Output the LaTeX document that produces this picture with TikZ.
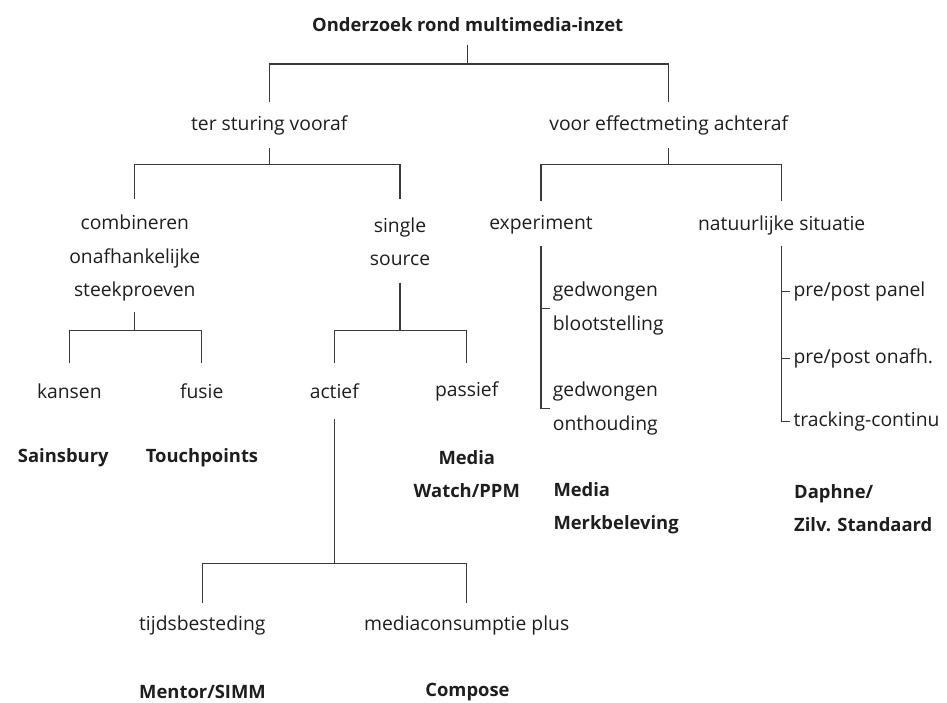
\documentclass[tikz,border=0pt]{standalone}
\usepackage{fontspec}
\setmainfont{Open Sans}
\usetikzlibrary{calc}
\definecolor{ink}{HTML}{1E1E1E}
\definecolor{rule}{HTML}{3A3A3A}
\tikzset{
  lbl/.style={inner sep=0pt, text=ink, font=\fontsize{19.3}{33.4}\selectfont, align=center},
  key/.style={lbl, font=\bfseries\fontsize{18.4}{33.4}\selectfont},
  leaf/.style={lbl, align=left, anchor=west},
  keyleaf/.style={key, align=left, anchor=west},
  conn/.style={draw=rule, line width=1.1pt},
}
\begin{document}
\begin{tikzpicture}[x=1pt,y=-1pt]
\useasboundingbox[fill=white] (0,0) rectangle (947,702);

% top level
\node[key] (title) at (467.7,25) {Onderzoek rond multimedia-inzet};
\node[lbl] (ter)  at (269.3,125) {ter sturing vooraf};
\node[lbl] (voor) at (668.7,125) {voor effectmeting achteraf};

% ter sturing vooraf
\node[lbl] (comb)   at (134.8,258.3) {combineren\\onafhankelijke\\steekproeven};
\node[lbl] (single) at (400,241.6) {single\\source};
\node[lbl] (kansen) at (69.3,391.7) {kansen};
\node[lbl] (fusie)  at (201.7,391.7) {fusie};
\node[lbl] (actief) at (334.3,391.7) {actief};
\node[lbl] (passief) at (466.7,391.7) {passief};
\node[key] (sains)  at (63.3,457.7) {Sainsbury};
\node[key] (touch)  at (202,457.7) {Touchpoints};
\node[key] (mwp)    at (466.8,474.2) {Media\\Watch/PPM};
\node[lbl] (tijd)   at (202.3,625) {tijdsbesteding};
\node[lbl] (mcp)    at (466.7,625) {mediaconsumptie plus};
\node[key] (mentor) at (202.5,691.7) {Mentor/SIMM};
\node[key] (compose) at (467.5,691.7) {Compose};

% voor effectmeting achteraf
\node[lbl] (exp) at (541,225) {experiment};
\node[lbl] (nat) at (781.7,225) {natuurlijke situatie};
\node[leaf] (gb) at (552.7,308.4) {gedwongen\\blootstelling};
\node[leaf] (go) at (552.7,408.4) {gedwongen\\onthouding};
\node[leaf] (pp) at (793.3,291.7) {pre/post panel};
\node[leaf] (po) at (793.3,358.3) {pre/post onafh.};
\node[leaf] (tc) at (793.3,421.5) {tracking-continu};
\node[keyleaf] (mm)   at (553.3,508) {Media\\Merkbeleving};
\node[keyleaf] (daph) at (794,508) {Daphne/\\Zilv. Standaard};

% tree connectors
\coordinate (j0) at ($(title)+(0,39)$);
\draw[conn] ($(title)+(0,20)$) -- (j0);
\draw[conn] (ter |- 0,101.7) -- (ter |- j0) -- (voor |- j0) -- (voor |- 0,101.7);

\coordinate (j1) at ($(ter)+(0,39.5)$);
\draw[conn] ($(ter)+(0,23.3)$) -- (j1);
\draw[conn] (comb |- 0,199.3) -- (comb |- j1) -- (single |- j1) -- (single |- 0,199.3);

\coordinate (j2) at ($(voor)+(0,39.5)$);
\draw[conn] ($(voor)+(0,23.3)$) -- (j2);
\draw[conn] (exp |- 0,200.7) -- (exp |- j2) -- (nat |- j2) -- (nat |- 0,200.7);

\coordinate (j3) at (comb |- 0,330.7);
\draw[conn] (comb |- 0,311.7) -- (j3);
\draw[conn] (kansen |- 0,363.3) -- (kansen |- j3) -- (fusie |- j3) -- (fusie |- 0,363.3);

\coordinate (j4) at (single |- 0,330.7);
\draw[conn] (single |- 0,282.7) -- (j4);
\draw[conn] (actief |- 0,363.3) -- (actief |- j4) -- (passief |- j4) -- (passief |- 0,363.3);

\coordinate (j5) at (actief |- 0,563.3);
\draw[conn] (actief |- 0,419.3) -- (j5);
\draw[conn] (tijd |- 0,602.5) -- (tijd |- j5) -- (mcp |- j5) -- (mcp |- 0,602.5);

% side brackets
\draw[conn] (exp |- 0,246) -- (exp |- go) -- ($(go.west)+(-2.7,0)$);
\draw[conn] (exp |- gb) -- ($(gb.west)+(-2.7,0)$);
\draw[conn] (nat |- 0,246) -- (nat |- tc) -- ($(tc.west)+(-3.3,0)$);
\draw[conn] (nat |- pp) -- ($(pp.west)+(-3.3,0)$);
\draw[conn] (nat |- po) -- ($(po.west)+(-3.3,0)$);
\end{tikzpicture}
\end{document}
